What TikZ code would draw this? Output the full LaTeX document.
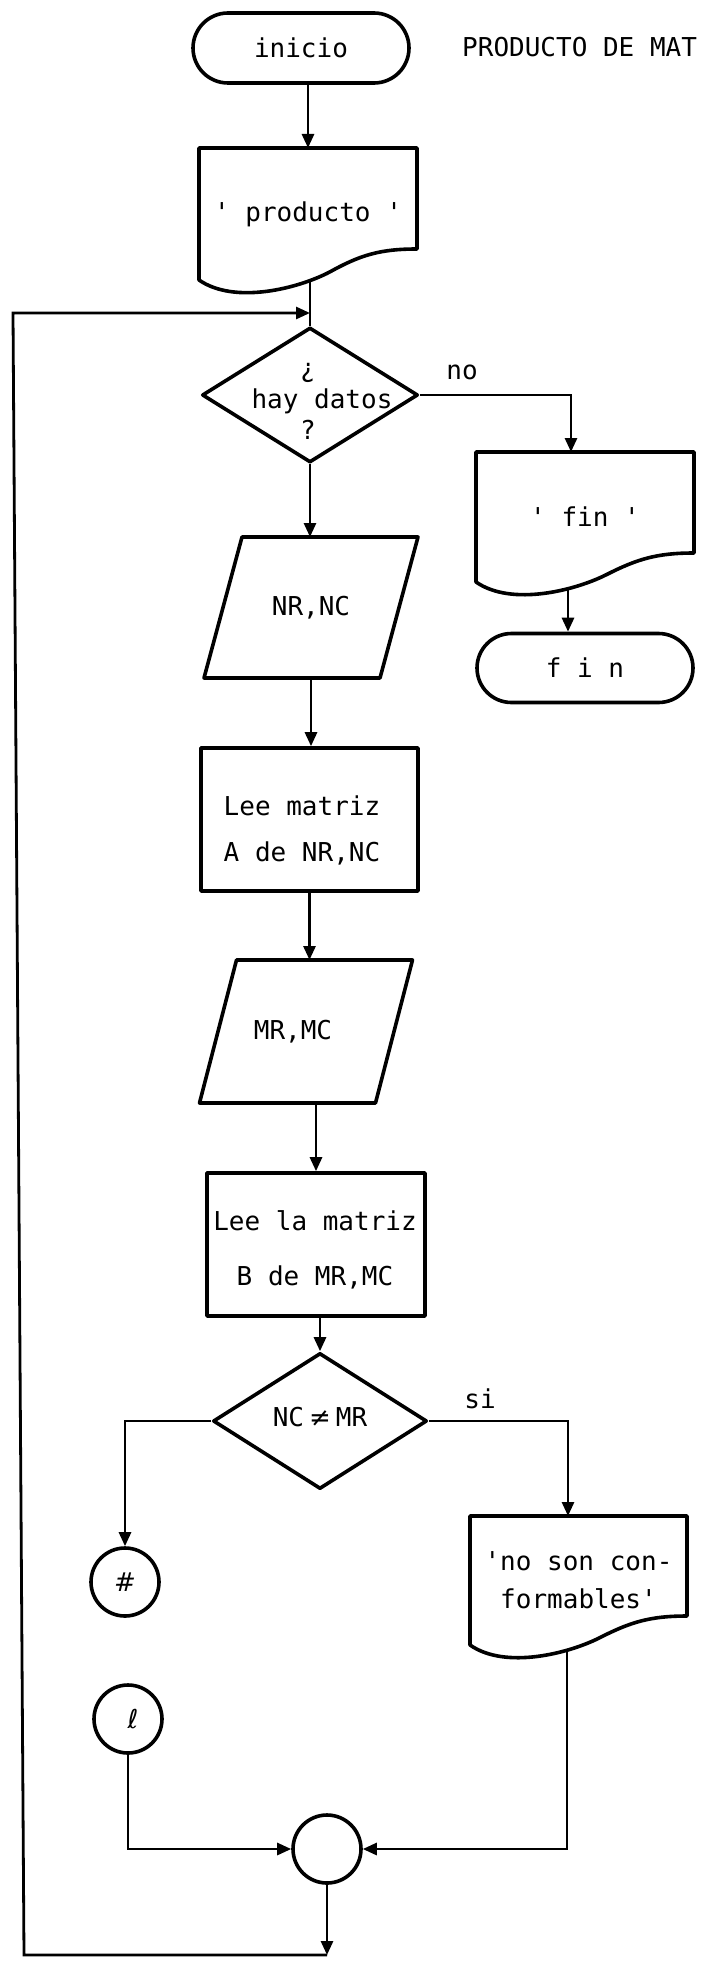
\documentclass[tikz,border=0pt]{standalone}
\usepackage{fontspec}
\setmonofont{DejaVu Sans Mono}
\newfontfamily\dvsans{DejaVu Sans}
\usetikzlibrary{shapes.geometric,shapes.misc,arrows.meta}
% document outline: x0, x1, ytop, y left bottom, y right bottom
\newcommand\docoutline[5]{%
  \draw[shp] (#1,#4) -- (#1,#3) -- (#2,#3) -- (#2,#5)
    .. controls ({#1+0.83*(#2-#1)},#5) and ({#1+0.74*(#2-#1)},{#5+6}) .. ({#1+0.6*(#2-#1)},{#4-0.26*(#4-#5)})
    .. controls ({#1+0.46*(#2-#1)},{#4+8}) and ({#1+0.165*(#2-#1)},{#4+25}) .. (#1,#4) -- cycle;}
% parallelogram outline around a ghost node: name, half slant offset
\newcommand\paraoutline[2]{%
  \draw[shp] ([xshift=#2pt]#1.north west) -- ([xshift=#2pt]#1.north east)
    -- ([xshift=-#2pt]#1.south east) -- ([xshift=-#2pt]#1.south west) -- cycle;}
\begin{document}
\begin{tikzpicture}[x=1pt,y=-1pt,
  shp/.style={draw, line width=3.6pt, line join=round},
  con/.style={line width=2.8pt},
  arr/.style={con, -{Triangle[length=14pt,width=12pt]}},
  txt/.style={font=\fontsize{26}{31}\selectfont\ttfamily, inner sep=0pt, align=center},
  ghost/.style={inner sep=0pt, outer sep=0pt},
]
\fill[white] (0,0) rectangle (701,1964);
\useasboundingbox (0,0) rectangle (701,1964);

% ---- nodes ----
\node[shp, txt, rounded rectangle, minimum width=216, minimum height=70] (inicio) at (301,48) {inicio};
\node[txt, anchor=west] (title) at (462,47) {PRODUCTO DE MAT};

\node[txt, ghost, minimum width=218, minimum height=132] (prod) at (308,214) {' producto '};
\docoutline{199}{417}{148}{280}{249}
\coordinate (prodB) at (310,280.5);
\coordinate (J) at (310,313);

\node[shp, diamond, minimum width=216, minimum height=135, inner sep=0pt] (hay) at (310,395) {};
\node[txt] (hayt) at (315,401) {¿\hspace*{14pt}\\\hspace*{14pt}hay datos\\?\hspace*{14pt}};
\node[txt] (nolab) at (462,372) {no};

\node[txt, ghost, minimum width=218, minimum height=130] (fin) at (585,517) {' fin '};
\docoutline{476}{694}{452}{582}{553}
\coordinate (finT) at (571,452);
\coordinate (finB) at (568,588.8);
\node[shp, txt, rounded rectangle, minimum width=216, minimum height=69] (finp) at (585,668) {f i n};

\node[txt, ghost, minimum width=176, minimum height=141] (nrnc) at (311,607.5) {NR,NC};
\paraoutline{nrnc}{19}

\node[shp, minimum width=217, minimum height=143] (boxA) at (309.5,819.5) {};
\node[txt] (boxAt) at (302,830) {Lee matriz\\[15pt]A de NR,NC};

\node[txt, ghost, minimum width=176, minimum height=143] (mrmc) at (306,1031.5) {MR,MC\hspace*{26pt}};
\paraoutline{mrmc}{18.5}

\node[shp, minimum width=218, minimum height=143] (boxB) at (316,1244.5) {};
\node[txt] (boxBt) at (315,1249.5) {Lee la matriz\\[24pt]B de MR,MC};

\node[shp, diamond, minimum width=214, minimum height=136, inner sep=0pt] (dia2) at (320,1421) {};
\node[txt] (dia2t) at (320,1417) {NC\hspace{5pt}{\dvsans ≠}\hspace{5pt}MR};
\node[txt] (silab) at (480,1399) {si};

\node[txt, ghost, minimum width=217, minimum height=129] (noson) at (578.5,1580.5) {'no son con-\\[7pt]formables'};
\docoutline{470}{687}{1516}{1645}{1616}
\coordinate (nsT) at (568,1516);
\coordinate (nsB) at (567,1650.3);

\node[shp, txt, circle, minimum size=68] (hash) at (125,1582) {{\dvsans\itshape\#}};
\node[shp, txt, circle, minimum size=68] (ell) at (128,1719) {\hspace*{10pt}{\dvsans ℓ}};
\node[shp, circle, minimum size=68, inner sep=0pt] (merge) at (327,1849) {};

\coordinate (B) at (327,1955);
\coordinate (BL) at (24,1955);
\coordinate (TL) at (13,313);

% ---- connectors ----
\draw[arr] (inicio.south -| prod.north) -- (prod.north);
\draw[con] (prodB) -- (hay.north);
\draw[arr] (B) -- (BL) -- (TL) -- (J);
\draw[arr] (hay.east) -| (finT);
\draw[arr] (finB) -- (finB |- finp.north);
\draw[arr] (hay.south) -- (hay.south |- nrnc.north);
\draw[arr] (nrnc.south) -- (nrnc.south |- boxA.north);
\draw[arr] (boxA.south) -- (boxA.south |- mrmc.north);
\draw[arr] (mrmc.south -| boxB.north) -- (boxB.north);
\draw[arr] (dia2.north |- boxB.south) -- (dia2.north);
\draw[arr] (dia2.east) -| (nsT);
\draw[arr] (dia2.west) -| (hash.north);
\draw[arr] (nsB) |- (merge.east);
\draw[arr] (ell.south) |- (merge.west);
\draw[arr] (merge.south) -- (B);
\end{tikzpicture}
\end{document}
